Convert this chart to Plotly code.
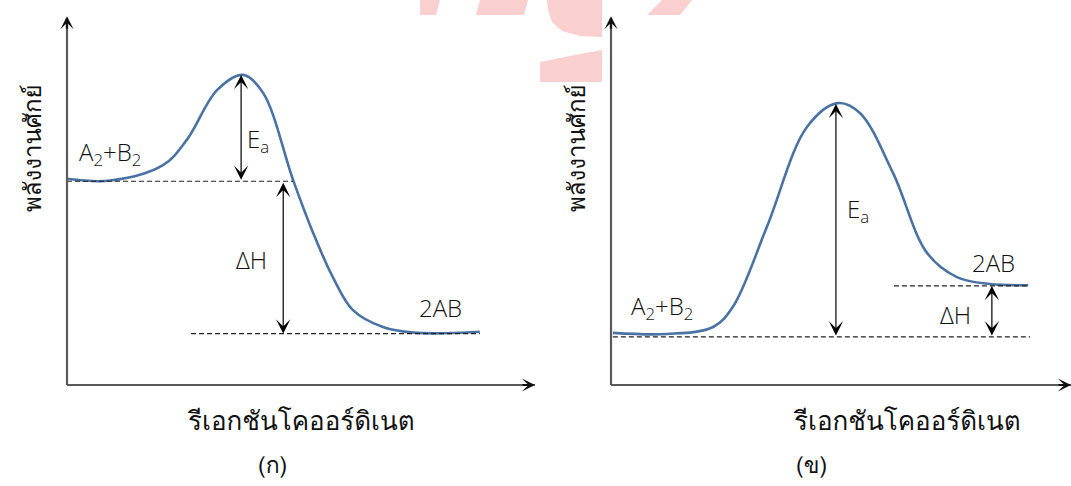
import plotly.graph_objects as go

# ---- energy profile data (reaction coordinate, potential energy) ----
# (ก) exothermic reaction
exo_x = [0.0, 0.92, 2.05, 2.56, 3.21, 3.76, 4.19, 4.83, 5.26, 5.68, 6.11, 6.75, 7.48, 8.82]
exo_y = [5.62, 5.57, 5.99, 6.68, 8.04, 8.45, 7.96, 5.59, 4.14, 2.94, 2.04, 1.58, 1.42, 1.45]
exo_reactant = 5.55
exo_product = 1.40
exo_peak = 8.45

# (ข) endothermic reaction
endo_x = [0.04, 1.22, 2.22, 2.65, 3.39, 4.26, 4.93, 5.41, 6.13, 6.87, 7.52, 8.24, 9.07]
endo_y = [1.42, 1.39, 1.58, 2.13, 4.31, 7.03, 7.68, 7.41, 5.78, 3.60, 2.94, 2.75, 2.72]
endo_reactant = 1.31
endo_product = 2.70
endo_peak = 7.66

# guide-line extents along the reaction coordinate
exo_react_span = [0.0, 4.83]
exo_prod_span = [2.65, 8.82]
endo_react_span = [0.04, 9.11]
endo_prod_span = [6.15, 9.07]

# arrow positions along the reaction coordinate
exo_ea_x, exo_dh_x = 3.72, 4.62
endo_ea_x, endo_dh_x = 4.89, 8.28

W, H = 1071, 486
CURVE = "#4a73a3"
AXIS = "#5a5a5a"
LABEL_FONT = dict(family="Open Sans, Liberation Sans, Arial, sans-serif", size=24, color="#111", weight=300)
THAI_FONT = dict(family="Loma, Garuda, Norasi, Tahoma, sans-serif", color="#111")

fig = go.Figure()

# energy curves
fig.add_trace(go.Scatter(x=exo_x, y=exo_y, mode="lines", line=dict(color=CURVE, width=2.6, shape="spline", smoothing=1.0),
                         xaxis="x", yaxis="y", hoverinfo="skip"))
fig.add_trace(go.Scatter(x=endo_x, y=endo_y, mode="lines", line=dict(color=CURVE, width=2.6, shape="spline", smoothing=1.0),
                         xaxis="x2", yaxis="y2", hoverinfo="skip"))

# dashed energy levels
dash = dict(color="#222", width=1.1, dash="5px,3px")
for span, lvl, xa, ya in [(exo_react_span, exo_reactant, "x", "y"), (exo_prod_span, exo_product, "x", "y"),
                          (endo_react_span, endo_reactant, "x2", "y2"), (endo_prod_span, endo_product, "x2", "y2")]:
    fig.add_trace(go.Scatter(x=span, y=[lvl, lvl], mode="lines", line=dash, xaxis=xa, yaxis=ya, hoverinfo="skip"))

ann = []

def double_arrow(x, y0, y1, xa, ya):
    ann.append(dict(x=x, y=y1, ax=x, ay=y0, xref=xa, yref=ya, axref=xa, ayref=ya, text="",
                    showarrow=True, arrowside="end+start", arrowhead=3, startarrowhead=3,
                    arrowsize=2.0, startarrowsize=2.0, arrowwidth=1.2, arrowcolor="#000"))

double_arrow(exo_ea_x, exo_reactant, exo_peak, "x", "y")
double_arrow(exo_dh_x, exo_reactant, exo_product, "x", "y")
double_arrow(endo_ea_x, endo_reactant, endo_peak, "x2", "y2")
double_arrow(endo_dh_x, endo_reactant, endo_product, "x2", "y2")

def label(x, y, text, xa, ya, xanchor="center"):
    ann.append(dict(x=x, y=y, xref=xa, yref=ya, text=text, showarrow=False, font=LABEL_FONT,
                    xanchor=xanchor, yanchor="middle"))

label(0.21, 6.32, "A<sub>2</sub>+B<sub>2</sub>", "x", "y", "left")
label(3.80, 6.68, "E<sub>a</sub>", "x", "y", "left")
label(3.95, 3.41, "ΔH", "x", "y", "center")
label(7.97, 2.10, "2AB", "x", "y", "center")

label(0.39, 2.13, "A<sub>2</sub>+B<sub>2</sub>", "x2", "y2", "left")
label(5.09, 4.77, "E<sub>a</sub>", "x2", "y2", "left")
label(7.48, 1.91, "ΔH", "x2", "y2", "center")
label(8.32, 3.35, "2AB", "x2", "y2", "center")

# axis titles and panel captions
for ytx, xtx, cap_x, cap in [(33 / W, 301 / W, 272 / W, "(ก)"),
                             (577 / W, 907 / W, 811 / W, "(ข)")]:
    ann.append(dict(x=ytx, y=1 - 148 / H, xref="paper", yref="paper", text="พลังงานศักย์", textangle=-90,
                    showarrow=False, xanchor="center", yanchor="middle", font=dict(THAI_FONT, size=24)))
    ann.append(dict(x=xtx, y=1 - 420 / H, xref="paper", yref="paper", text="รีเอกชันโคออร์ดิเนต",
                    showarrow=False, xanchor="center", yanchor="middle", font=dict(THAI_FONT, size=26)))
    ann.append(dict(x=cap_x, y=1 - 465 / H, xref="paper", yref="paper", text=cap,
                    showarrow=False, xanchor="center", yanchor="middle", font=dict(THAI_FONT, size=23)))

# axis arrows
shapes = []
for xa, ya in [("x", "y"), ("x2", "y2")]:
    shapes.append(dict(type="line", xref=f"{xa} domain", yref=f"{ya} domain", x0=0, x1=0, y0=0, y1=1.0,
                       line=dict(color=AXIS, width=2.2)))
    shapes.append(dict(type="line", xref=f"{xa} domain", yref=f"{ya} domain", x0=0, x1=1.0, y0=0, y1=0,
                       line=dict(color=AXIS, width=2.2)))
    ann.append(dict(x=0, y=1.005, xref=f"{xa} domain", yref=f"{ya} domain", ax=0, ay=14, text="",
                    showarrow=True, arrowhead=3, arrowsize=1.0, arrowwidth=2.2, arrowcolor="#111"))
    ann.append(dict(x=1.0, y=0, xref=f"{xa} domain", yref=f"{ya} domain", ax=-14, ay=0, text="",
                    showarrow=True, arrowhead=3, arrowsize=1.0, arrowwidth=2.2, arrowcolor="#111"))

# faint logo fragment along the top edge
def px_path(points):
    return "M " + " L ".join(f"{x / W:.4f},{1 - y / H:.4f}" for x, y in points) + " Z"

pink = "rgba(240,140,140,0.42)"
logo_parts = [
    [(420, 0), (440, 0), (436, 15), (420, 15)],
    [(480, 0), (528, 0), (524, 15), (476, 15)],
    [(547, 0), (602, 0), (602, 37), (580, 36), (562, 31), (552, 22), (548, 10)],
    [(540, 62), (560, 58), (580, 54), (602, 50), (602, 82), (540, 82)],
    [(662, 0), (692, 0), (680, 15), (647, 15)],
]
for pts in logo_parts:
    shapes.append(dict(type="path", xref="paper", yref="paper", path=px_path(pts), fillcolor=pink,
                       line=dict(width=0), layer="below"))

axis_common = dict(visible=False, fixedrange=True)
fig.update_layout(
    width=W, height=H,
    margin=dict(l=0, r=0, t=0, b=0),
    paper_bgcolor="white", plot_bgcolor="white",
    showlegend=False,
    xaxis=dict(axis_common, domain=[67 / W, 535 / W], range=[0, 10], anchor="y"),
    yaxis=dict(axis_common, domain=[1 - 385 / H, 1 - 18 / H], range=[0, 10], anchor="x"),
    xaxis2=dict(axis_common, domain=[611 / W, 1.0], range=[0, 10], anchor="y2"),
    yaxis2=dict(axis_common, domain=[1 - 385 / H, 1 - 18 / H], range=[0, 10], anchor="x2"),
    annotations=ann,
    shapes=shapes,
)

fig.write_html("out.html")
